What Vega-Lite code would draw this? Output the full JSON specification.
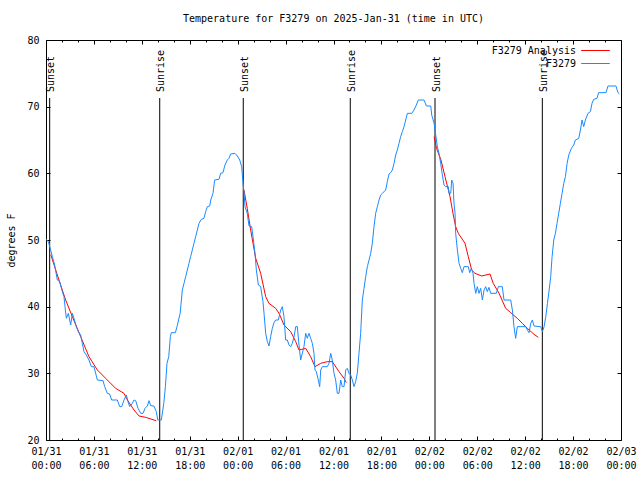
{
  "$schema": "https://vega.github.io/schema/vega-lite/v6.json",
  "autosize": "none",
  "width": 575,
  "height": 400,
  "padding": {"left": 46, "top": 40, "right": 19, "bottom": 40},
  "background": "white",
  "title": {"text": "Temperature for F3279 on 2025-Jan-31 (time in UTC)", "font": "DejaVu Sans Mono", "fontSize": 10, "fontWeight": "normal", "color": "black", "offset": 11},
  "config": {
    "view": {"stroke": "black", "strokeWidth": 1},
    "axis": {"domain": false, "grid": false, "labelFont": "DejaVu Sans Mono", "labelFontSize": 10, "labelColor": "black", "titleFont": "DejaVu Sans Mono", "titleFontSize": 10, "titleFontWeight": "normal", "titleColor": "black", "tickColor": "black", "tickWidth": 1},
    "legend": {"labelFont": "DejaVu Sans Mono", "labelFontSize": 10, "labelColor": "black"}
  },
  "datasets": {
    "analysis": [
      {"series": "F3279 Analysis", "night": "n1", "hours": 0.6, "temp": 47.8},
      {"series": "F3279 Analysis", "night": "n1", "hours": 1.42, "temp": 44.75},
      {"series": "F3279 Analysis", "night": "n1", "hours": 2.46, "temp": 41.0},
      {"series": "F3279 Analysis", "night": "n1", "hours": 3.3, "temp": 38.5},
      {"series": "F3279 Analysis", "night": "n1", "hours": 4.34, "temp": 35.5},
      {"series": "F3279 Analysis", "night": "n1", "hours": 5.38, "temp": 32.5},
      {"series": "F3279 Analysis", "night": "n1", "hours": 6.43, "temp": 30.5},
      {"series": "F3279 Analysis", "night": "n1", "hours": 7.47, "temp": 29.25},
      {"series": "F3279 Analysis", "night": "n1", "hours": 8.72, "temp": 27.75},
      {"series": "F3279 Analysis", "night": "n1", "hours": 9.77, "temp": 27.0},
      {"series": "F3279 Analysis", "night": "n1", "hours": 10.19, "temp": 26.0},
      {"series": "F3279 Analysis", "night": "n1", "hours": 11.02, "temp": 24.5},
      {"series": "F3279 Analysis", "night": "n1", "hours": 11.65, "temp": 23.6},
      {"series": "F3279 Analysis", "night": "n1", "hours": 12.48, "temp": 23.4},
      {"series": "F3279 Analysis", "night": "n1", "hours": 13.52, "temp": 23.0},
      {"series": "F3279 Analysis", "night": "n1", "hours": 13.8, "temp": 22.9},
      {"series": "F3279 Analysis", "night": "n2", "hours": 24.79, "temp": 57.5},
      {"series": "F3279 Analysis", "night": "n2", "hours": 25.2, "temp": 54.75},
      {"series": "F3279 Analysis", "night": "n2", "hours": 25.63, "temp": 51.5},
      {"series": "F3279 Analysis", "night": "n2", "hours": 26.26, "temp": 47.25},
      {"series": "F3279 Analysis", "night": "n2", "hours": 26.88, "temp": 45.0},
      {"series": "F3279 Analysis", "night": "n2", "hours": 27.51, "temp": 41.5},
      {"series": "F3279 Analysis", "night": "n2", "hours": 27.92, "temp": 40.5},
      {"series": "F3279 Analysis", "night": "n2", "hours": 28.76, "temp": 39.75},
      {"series": "F3279 Analysis", "night": "n2", "hours": 29.18, "temp": 39.0},
      {"series": "F3279 Analysis", "night": "n2", "hours": 29.8, "temp": 37.25},
      {"series": "F3279 Analysis", "night": "n2", "hours": 30.64, "temp": 36.25},
      {"series": "F3279 Analysis", "night": "n2", "hours": 31.27, "temp": 34.75},
      {"series": "F3279 Analysis", "night": "n2", "hours": 31.68, "temp": 33.5},
      {"series": "F3279 Analysis", "night": "n2", "hours": 32.52, "temp": 33.75},
      {"series": "F3279 Analysis", "night": "n2", "hours": 33.14, "temp": 32.5},
      {"series": "F3279 Analysis", "night": "n2", "hours": 33.68, "temp": 31.0},
      {"series": "F3279 Analysis", "night": "n2", "hours": 34.4, "temp": 31.5},
      {"series": "F3279 Analysis", "night": "n2", "hours": 35.22, "temp": 31.75},
      {"series": "F3279 Analysis", "night": "n2", "hours": 35.85, "temp": 31.75},
      {"series": "F3279 Analysis", "night": "n2", "hours": 36.69, "temp": 30.25},
      {"series": "F3279 Analysis", "night": "n2", "hours": 37.32, "temp": 29.25},
      {"series": "F3279 Analysis", "night": "n2", "hours": 37.6, "temp": 28.6},
      {"series": "F3279 Analysis", "night": "n3", "hours": 48.6, "temp": 65.5},
      {"series": "F3279 Analysis", "night": "n3", "hours": 48.9, "temp": 63.75},
      {"series": "F3279 Analysis", "night": "n3", "hours": 49.46, "temp": 62.0},
      {"series": "F3279 Analysis", "night": "n3", "hours": 49.96, "temp": 59.5},
      {"series": "F3279 Analysis", "night": "n3", "hours": 50.59, "temp": 56.5},
      {"series": "F3279 Analysis", "night": "n3", "hours": 51.0, "temp": 53.75},
      {"series": "F3279 Analysis", "night": "n3", "hours": 51.3, "temp": 52.0},
      {"series": "F3279 Analysis", "night": "n3", "hours": 51.63, "temp": 51.0},
      {"series": "F3279 Analysis", "night": "n3", "hours": 52.47, "temp": 49.5},
      {"series": "F3279 Analysis", "night": "n3", "hours": 52.88, "temp": 47.5},
      {"series": "F3279 Analysis", "night": "n3", "hours": 53.3, "temp": 45.5},
      {"series": "F3279 Analysis", "night": "n3", "hours": 53.72, "temp": 45.0},
      {"series": "F3279 Analysis", "night": "n3", "hours": 54.55, "temp": 44.6},
      {"series": "F3279 Analysis", "night": "n3", "hours": 55.6, "temp": 44.9},
      {"series": "F3279 Analysis", "night": "n3", "hours": 56.0, "temp": 43.5},
      {"series": "F3279 Analysis", "night": "n3", "hours": 56.73, "temp": 42.0},
      {"series": "F3279 Analysis", "night": "n3", "hours": 57.56, "temp": 39.75},
      {"series": "F3279 Analysis", "night": "n3", "hours": 58.19, "temp": 39.1},
      {"series": "F3279 Analysis", "night": "n3", "hours": 59.02, "temp": 38.25},
      {"series": "F3279 Analysis", "night": "n3", "hours": 59.65, "temp": 37.5},
      {"series": "F3279 Analysis", "night": "n3", "hours": 60.28, "temp": 36.75},
      {"series": "F3279 Analysis", "night": "n3", "hours": 61.11, "temp": 35.85},
      {"series": "F3279 Analysis", "night": "n3", "hours": 61.65, "temp": 35.4}
    ],
    "obs": [
      {"series": "F3279", "hours": 0, "temp": 50.1},
      {"series": "F3279", "hours": 0.3, "temp": 49.75},
      {"series": "F3279", "hours": 0.58, "temp": 48.5},
      {"series": "F3279", "hours": 0.8, "temp": 47.5},
      {"series": "F3279", "hours": 1.08, "temp": 46.25},
      {"series": "F3279", "hours": 1.42, "temp": 44.0},
      {"series": "F3279", "hours": 1.71, "temp": 43.75},
      {"series": "F3279", "hours": 2.05, "temp": 42.25},
      {"series": "F3279", "hours": 2.25, "temp": 41.5},
      {"series": "F3279", "hours": 2.38, "temp": 40.0},
      {"series": "F3279", "hours": 2.55, "temp": 38.25},
      {"series": "F3279", "hours": 2.8, "temp": 39.0},
      {"series": "F3279", "hours": 3.09, "temp": 37.25},
      {"series": "F3279", "hours": 3.3, "temp": 39.0},
      {"series": "F3279", "hours": 3.5, "temp": 38.25},
      {"series": "F3279", "hours": 3.8, "temp": 37.0},
      {"series": "F3279", "hours": 4.05, "temp": 36.25},
      {"series": "F3279", "hours": 4.34, "temp": 35.75},
      {"series": "F3279", "hours": 4.55, "temp": 34.5},
      {"series": "F3279", "hours": 4.76, "temp": 33.25},
      {"series": "F3279", "hours": 5.05, "temp": 32.75},
      {"series": "F3279", "hours": 5.38, "temp": 32.0},
      {"series": "F3279", "hours": 5.68, "temp": 31.0},
      {"series": "F3279", "hours": 6.01, "temp": 31.0},
      {"series": "F3279", "hours": 6.43, "temp": 29.0},
      {"series": "F3279", "hours": 7.14, "temp": 28.9},
      {"series": "F3279", "hours": 7.35, "temp": 28.0},
      {"series": "F3279", "hours": 7.68, "temp": 27.0},
      {"series": "F3279", "hours": 7.97, "temp": 26.9},
      {"series": "F3279", "hours": 8.22, "temp": 26.0},
      {"series": "F3279", "hours": 8.93, "temp": 26.0},
      {"series": "F3279", "hours": 9.23, "temp": 25.0},
      {"series": "F3279", "hours": 9.48, "temp": 25.0},
      {"series": "F3279", "hours": 9.77, "temp": 26.0},
      {"series": "F3279", "hours": 10.06, "temp": 26.75},
      {"series": "F3279", "hours": 10.27, "temp": 25.75},
      {"series": "F3279", "hours": 10.48, "temp": 25.0},
      {"series": "F3279", "hours": 10.8, "temp": 25.5},
      {"series": "F3279", "hours": 11.02, "temp": 26.0},
      {"series": "F3279", "hours": 11.23, "temp": 25.9},
      {"series": "F3279", "hours": 11.52, "temp": 24.75},
      {"series": "F3279", "hours": 11.86, "temp": 24.0},
      {"series": "F3279", "hours": 12.15, "temp": 24.0},
      {"series": "F3279", "hours": 12.4, "temp": 24.75},
      {"series": "F3279", "hours": 12.69, "temp": 25.1},
      {"series": "F3279", "hours": 12.9, "temp": 25.9},
      {"series": "F3279", "hours": 13.11, "temp": 25.15},
      {"series": "F3279", "hours": 13.52, "temp": 25.1},
      {"series": "F3279", "hours": 13.81, "temp": 24.25},
      {"series": "F3279", "hours": 14.0, "temp": 23.0},
      {"series": "F3279", "hours": 14.44, "temp": 23.0},
      {"series": "F3279", "hours": 14.63, "temp": 24.5},
      {"series": "F3279", "hours": 14.75, "temp": 25.5},
      {"series": "F3279", "hours": 14.95, "temp": 28.0},
      {"series": "F3279", "hours": 15.15, "temp": 31.5},
      {"series": "F3279", "hours": 15.37, "temp": 32.5},
      {"series": "F3279", "hours": 15.57, "temp": 35.5},
      {"series": "F3279", "hours": 15.7, "temp": 36.1},
      {"series": "F3279", "hours": 16.2, "temp": 36.1},
      {"series": "F3279", "hours": 16.4, "temp": 37.0},
      {"series": "F3279", "hours": 16.6, "temp": 38.0},
      {"series": "F3279", "hours": 16.8, "temp": 39.0},
      {"series": "F3279", "hours": 17.07, "temp": 42.5},
      {"series": "F3279", "hours": 17.28, "temp": 43.5},
      {"series": "F3279", "hours": 17.49, "temp": 44.5},
      {"series": "F3279", "hours": 17.7, "temp": 45.5},
      {"series": "F3279", "hours": 17.9, "temp": 46.5},
      {"series": "F3279", "hours": 18.11, "temp": 47.5},
      {"series": "F3279", "hours": 18.32, "temp": 48.5},
      {"series": "F3279", "hours": 18.53, "temp": 49.5},
      {"series": "F3279", "hours": 18.74, "temp": 50.5},
      {"series": "F3279", "hours": 18.95, "temp": 51.5},
      {"series": "F3279", "hours": 19.16, "temp": 52.5},
      {"series": "F3279", "hours": 19.45, "temp": 53.1},
      {"series": "F3279", "hours": 19.78, "temp": 53.25},
      {"series": "F3279", "hours": 19.99, "temp": 54.25},
      {"series": "F3279", "hours": 20.2, "temp": 55.0},
      {"series": "F3279", "hours": 20.5, "temp": 55.1},
      {"series": "F3279", "hours": 20.63, "temp": 56.0},
      {"series": "F3279", "hours": 20.91, "temp": 57.0},
      {"series": "F3279", "hours": 21.12, "temp": 59.0},
      {"series": "F3279", "hours": 21.66, "temp": 59.1},
      {"series": "F3279", "hours": 21.87, "temp": 60.0},
      {"series": "F3279", "hours": 22.16, "temp": 60.1},
      {"series": "F3279", "hours": 22.41, "temp": 61.25},
      {"series": "F3279", "hours": 22.7, "temp": 62.0},
      {"series": "F3279", "hours": 22.91, "temp": 62.25},
      {"series": "F3279", "hours": 23.12, "temp": 62.9},
      {"series": "F3279", "hours": 23.66, "temp": 63.0},
      {"series": "F3279", "hours": 23.96, "temp": 62.6},
      {"series": "F3279", "hours": 24.26, "temp": 62.0},
      {"series": "F3279", "hours": 24.5, "temp": 61.0},
      {"series": "F3279", "hours": 24.67, "temp": 58.5},
      {"series": "F3279", "hours": 24.79, "temp": 57.25},
      {"series": "F3279", "hours": 24.92, "temp": 55.0},
      {"series": "F3279", "hours": 25.2, "temp": 54.0},
      {"series": "F3279", "hours": 25.42, "temp": 52.1},
      {"series": "F3279", "hours": 25.75, "temp": 52.0},
      {"series": "F3279", "hours": 25.92, "temp": 50.5},
      {"series": "F3279", "hours": 26.17, "temp": 48.0},
      {"series": "F3279", "hours": 26.34, "temp": 45.5},
      {"series": "F3279", "hours": 26.59, "temp": 43.25},
      {"series": "F3279", "hours": 26.88, "temp": 43.0},
      {"series": "F3279", "hours": 27.17, "temp": 40.75},
      {"series": "F3279", "hours": 27.3, "temp": 39.0},
      {"series": "F3279", "hours": 27.51, "temp": 36.0},
      {"series": "F3279", "hours": 27.72, "temp": 34.75},
      {"series": "F3279", "hours": 27.92, "temp": 34.1},
      {"series": "F3279", "hours": 28.13, "temp": 35.5},
      {"series": "F3279", "hours": 28.34, "temp": 36.75},
      {"series": "F3279", "hours": 28.55, "temp": 37.6},
      {"series": "F3279", "hours": 28.76, "temp": 38.0},
      {"series": "F3279", "hours": 29.09, "temp": 38.0},
      {"series": "F3279", "hours": 29.39, "temp": 39.5},
      {"series": "F3279", "hours": 29.59, "temp": 40.0},
      {"series": "F3279", "hours": 29.8, "temp": 38.5},
      {"series": "F3279", "hours": 30.01, "temp": 35.0},
      {"series": "F3279", "hours": 30.22, "temp": 35.0},
      {"series": "F3279", "hours": 30.43, "temp": 34.25},
      {"series": "F3279", "hours": 30.64, "temp": 34.0},
      {"series": "F3279", "hours": 30.84, "temp": 34.5},
      {"series": "F3279", "hours": 31.06, "temp": 35.5},
      {"series": "F3279", "hours": 31.27, "temp": 37.0},
      {"series": "F3279", "hours": 31.47, "temp": 37.0},
      {"series": "F3279", "hours": 31.68, "temp": 34.25},
      {"series": "F3279", "hours": 31.89, "temp": 32.0},
      {"series": "F3279", "hours": 32.09, "temp": 33.0},
      {"series": "F3279", "hours": 32.3, "temp": 34.0},
      {"series": "F3279", "hours": 32.52, "temp": 36.0},
      {"series": "F3279", "hours": 32.72, "temp": 35.25},
      {"series": "F3279", "hours": 32.93, "temp": 36.0},
      {"series": "F3279", "hours": 33.14, "temp": 35.25},
      {"series": "F3279", "hours": 33.35, "temp": 34.5},
      {"series": "F3279", "hours": 33.56, "temp": 33.0},
      {"series": "F3279", "hours": 33.68, "temp": 30.5},
      {"series": "F3279", "hours": 33.85, "temp": 30.25},
      {"series": "F3279", "hours": 34.1, "temp": 29.0},
      {"series": "F3279", "hours": 34.27, "temp": 28.0},
      {"series": "F3279", "hours": 34.4, "temp": 30.5},
      {"series": "F3279", "hours": 34.6, "temp": 31.0},
      {"series": "F3279", "hours": 35.22, "temp": 31.0},
      {"series": "F3279", "hours": 35.44, "temp": 31.5},
      {"series": "F3279", "hours": 35.65, "temp": 33.0},
      {"series": "F3279", "hours": 35.85, "temp": 32.0},
      {"series": "F3279", "hours": 36.06, "temp": 30.0},
      {"series": "F3279", "hours": 36.27, "temp": 29.0},
      {"series": "F3279", "hours": 36.48, "temp": 27.0},
      {"series": "F3279", "hours": 36.69, "temp": 27.0},
      {"series": "F3279", "hours": 36.9, "temp": 29.0},
      {"series": "F3279", "hours": 37.1, "temp": 28.0},
      {"series": "F3279", "hours": 37.32, "temp": 28.0},
      {"series": "F3279", "hours": 37.53, "temp": 30.5},
      {"series": "F3279", "hours": 37.73, "temp": 30.75},
      {"series": "F3279", "hours": 37.94, "temp": 30.0},
      {"series": "F3279", "hours": 38.15, "temp": 29.75},
      {"series": "F3279", "hours": 38.36, "temp": 29.0},
      {"series": "F3279", "hours": 38.57, "temp": 28.0},
      {"series": "F3279", "hours": 38.77, "temp": 28.75},
      {"series": "F3279", "hours": 38.98, "temp": 30.0},
      {"series": "F3279", "hours": 39.19, "temp": 33.0},
      {"series": "F3279", "hours": 39.4, "temp": 36.0},
      {"series": "F3279", "hours": 39.61, "temp": 41.0},
      {"series": "F3279", "hours": 39.82, "temp": 42.75},
      {"series": "F3279", "hours": 40.03, "temp": 44.5},
      {"series": "F3279", "hours": 40.24, "temp": 46.0},
      {"series": "F3279", "hours": 40.45, "temp": 47.0},
      {"series": "F3279", "hours": 40.66, "temp": 48.0},
      {"series": "F3279", "hours": 40.86, "temp": 49.5},
      {"series": "F3279", "hours": 41.07, "temp": 52.0},
      {"series": "F3279", "hours": 41.28, "temp": 54.0},
      {"series": "F3279", "hours": 41.49, "temp": 55.0},
      {"series": "F3279", "hours": 41.7, "temp": 56.0},
      {"series": "F3279", "hours": 41.91, "temp": 56.75},
      {"series": "F3279", "hours": 42.12, "temp": 57.0},
      {"series": "F3279", "hours": 42.53, "temp": 57.5},
      {"series": "F3279", "hours": 42.74, "temp": 58.75},
      {"series": "F3279", "hours": 42.95, "temp": 59.9},
      {"series": "F3279", "hours": 43.16, "temp": 60.1},
      {"series": "F3279", "hours": 43.37, "temp": 60.5},
      {"series": "F3279", "hours": 43.58, "temp": 61.5},
      {"series": "F3279", "hours": 43.79, "temp": 62.75},
      {"series": "F3279", "hours": 43.99, "temp": 63.5},
      {"series": "F3279", "hours": 44.2, "temp": 64.5},
      {"series": "F3279", "hours": 44.41, "temp": 65.5},
      {"series": "F3279", "hours": 44.62, "temp": 66.25},
      {"series": "F3279", "hours": 44.83, "temp": 67.0},
      {"series": "F3279", "hours": 45.04, "temp": 68.0},
      {"series": "F3279", "hours": 45.25, "temp": 69.0},
      {"series": "F3279", "hours": 45.8, "temp": 69.0},
      {"series": "F3279", "hours": 46.08, "temp": 69.5},
      {"series": "F3279", "hours": 46.37, "temp": 70.25},
      {"series": "F3279", "hours": 46.62, "temp": 71.0},
      {"series": "F3279", "hours": 47.34, "temp": 71.0},
      {"series": "F3279", "hours": 47.63, "temp": 70.1},
      {"series": "F3279", "hours": 48.18, "temp": 70.1},
      {"series": "F3279", "hours": 48.3, "temp": 68.75},
      {"series": "F3279", "hours": 48.6, "temp": 67.5},
      {"series": "F3279", "hours": 48.8, "temp": 65.75},
      {"series": "F3279", "hours": 49.0, "temp": 64.0},
      {"series": "F3279", "hours": 49.21, "temp": 63.0},
      {"series": "F3279", "hours": 49.42, "temp": 61.5},
      {"series": "F3279", "hours": 49.63, "temp": 59.75},
      {"series": "F3279", "hours": 49.84, "temp": 58.25},
      {"series": "F3279", "hours": 50.05, "temp": 58.0},
      {"series": "F3279", "hours": 50.38, "temp": 58.0},
      {"series": "F3279", "hours": 50.47, "temp": 57.0},
      {"series": "F3279", "hours": 50.68, "temp": 57.0},
      {"series": "F3279", "hours": 50.8, "temp": 59.0},
      {"series": "F3279", "hours": 50.97, "temp": 58.5},
      {"series": "F3279", "hours": 51.09, "temp": 55.5},
      {"series": "F3279", "hours": 51.22, "temp": 54.0},
      {"series": "F3279", "hours": 51.3, "temp": 51.0},
      {"series": "F3279", "hours": 51.51, "temp": 48.5},
      {"series": "F3279", "hours": 51.72, "temp": 46.5},
      {"series": "F3279", "hours": 51.93, "temp": 45.75},
      {"series": "F3279", "hours": 52.13, "temp": 45.1},
      {"series": "F3279", "hours": 52.34, "temp": 46.0},
      {"series": "F3279", "hours": 52.88, "temp": 46.0},
      {"series": "F3279", "hours": 53.06, "temp": 45.1},
      {"series": "F3279", "hours": 53.26, "temp": 45.75},
      {"series": "F3279", "hours": 53.47, "temp": 45.0},
      {"series": "F3279", "hours": 53.6, "temp": 43.5},
      {"series": "F3279", "hours": 53.81, "temp": 42.0},
      {"series": "F3279", "hours": 54.01, "temp": 43.0},
      {"series": "F3279", "hours": 54.22, "temp": 42.0},
      {"series": "F3279", "hours": 54.43, "temp": 42.75},
      {"series": "F3279", "hours": 54.64, "temp": 41.0},
      {"series": "F3279", "hours": 54.85, "temp": 42.5},
      {"series": "F3279", "hours": 55.06, "temp": 43.0},
      {"series": "F3279", "hours": 55.26, "temp": 42.25},
      {"series": "F3279", "hours": 55.47, "temp": 42.9},
      {"series": "F3279", "hours": 55.68, "temp": 42.0},
      {"series": "F3279", "hours": 56.39, "temp": 42.0},
      {"series": "F3279", "hours": 56.64, "temp": 43.0},
      {"series": "F3279", "hours": 57.14, "temp": 43.0},
      {"series": "F3279", "hours": 57.35, "temp": 41.0},
      {"series": "F3279", "hours": 58.19, "temp": 41.0},
      {"series": "F3279", "hours": 58.4, "temp": 39.5},
      {"series": "F3279", "hours": 58.6, "temp": 37.0},
      {"series": "F3279", "hours": 58.81, "temp": 35.25},
      {"series": "F3279", "hours": 59.02, "temp": 37.0},
      {"series": "F3279", "hours": 60.07, "temp": 37.0},
      {"series": "F3279", "hours": 60.28, "temp": 36.5},
      {"series": "F3279", "hours": 60.49, "temp": 36.1},
      {"series": "F3279", "hours": 60.7, "temp": 37.5},
      {"series": "F3279", "hours": 60.9, "temp": 38.0},
      {"series": "F3279", "hours": 61.11, "temp": 37.1},
      {"series": "F3279", "hours": 61.95, "temp": 37.0},
      {"series": "F3279", "hours": 62.16, "temp": 36.25},
      {"series": "F3279", "hours": 62.37, "temp": 37.0},
      {"series": "F3279", "hours": 62.58, "temp": 38.5},
      {"series": "F3279", "hours": 62.79, "temp": 40.5},
      {"series": "F3279", "hours": 63.0, "temp": 42.5},
      {"series": "F3279", "hours": 63.2, "temp": 44.5},
      {"series": "F3279", "hours": 63.37, "temp": 47.5},
      {"series": "F3279", "hours": 63.58, "temp": 50.0},
      {"series": "F3279", "hours": 63.79, "temp": 51.0},
      {"series": "F3279", "hours": 63.99, "temp": 52.5},
      {"series": "F3279", "hours": 64.2, "temp": 54.0},
      {"series": "F3279", "hours": 64.41, "temp": 55.5},
      {"series": "F3279", "hours": 64.62, "temp": 57.0},
      {"series": "F3279", "hours": 64.83, "temp": 58.5},
      {"series": "F3279", "hours": 65.04, "temp": 59.5},
      {"series": "F3279", "hours": 65.25, "temp": 61.5},
      {"series": "F3279", "hours": 65.46, "temp": 62.75},
      {"series": "F3279", "hours": 65.79, "temp": 63.75},
      {"series": "F3279", "hours": 66.08, "temp": 64.25},
      {"series": "F3279", "hours": 66.29, "temp": 65.0},
      {"series": "F3279", "hours": 66.71, "temp": 65.25},
      {"series": "F3279", "hours": 66.92, "temp": 66.5},
      {"series": "F3279", "hours": 67.12, "temp": 68.0},
      {"series": "F3279", "hours": 67.33, "temp": 67.0},
      {"series": "F3279", "hours": 67.54, "temp": 68.0},
      {"series": "F3279", "hours": 67.87, "temp": 69.0},
      {"series": "F3279", "hours": 68.17, "temp": 69.25},
      {"series": "F3279", "hours": 68.37, "temp": 70.5},
      {"series": "F3279", "hours": 68.58, "temp": 71.1},
      {"series": "F3279", "hours": 68.99, "temp": 71.25},
      {"series": "F3279", "hours": 69.2, "temp": 72.1},
      {"series": "F3279", "hours": 70.12, "temp": 72.1},
      {"series": "F3279", "hours": 70.37, "temp": 73.1},
      {"series": "F3279", "hours": 71.37, "temp": 73.1},
      {"series": "F3279", "hours": 71.62, "temp": 72.1},
      {"series": "F3279", "hours": 71.8, "temp": 71.9}
    ],
    "sun": [
      {"hours": 0.46, "event": "Sunset"},
      {"hours": 14.24, "event": "Sunrise"},
      {"hours": 24.7, "event": "Sunset"},
      {"hours": 38.1, "event": "Sunrise"},
      {"hours": 48.71, "event": "Sunset"},
      {"hours": 62.15, "event": "Sunrise"}
    ]
  },
  "layer": [
    {
      "data": {"name": "sun"},
      "mark": {"type": "rule", "color": "black", "strokeWidth": 1},
      "encoding": {
        "x": {"field": "hours", "type": "quantitative", "scale": {"domain": [0, 72], "nice": false, "zero": false},
          "axis": {"orient": "top", "title": null, "labels": false, "values": [0,2,4,6,8,10,12,14,16,18,20,22,24,26,28,30,32,34,36,38,40,42,44,46,48,50,52,54,56,58,60,62,64,66,68,70,72],
            "tickSize": {"condition": {"test": "datum.value % 6 === 0", "value": -4}, "value": -2}}},
        "y": {"datum": 71.3, "type": "quantitative", "scale": {"domain": [20, 80], "nice": false, "zero": false},
          "axis": {"orient": "right", "title": null, "labels": false, "values": [20,30,40,50,60,70,80], "tickSize": -4}},
        "y2": {"datum": 20}
      }
    },
    {
      "data": {"name": "sun"},
      "mark": {"type": "text", "angle": 270, "align": "left", "baseline": "middle", "dy": 1.5, "font": "DejaVu Sans Mono", "fontSize": 10, "color": "black"},
      "encoding": {
        "x": {"field": "hours", "type": "quantitative", "axis": null},
        "y": {"datum": 72.2, "type": "quantitative", "axis": null},
        "text": {"field": "event"}
      }
    },
    {
      "data": {"name": "analysis"},
      "mark": {"type": "line", "strokeWidth": 1},
      "encoding": {
        "x": {"field": "hours", "type": "quantitative",
          "axis": {"orient": "bottom", "title": null, "values": [0,2,4,6,8,10,12,14,16,18,20,22,24,26,28,30,32,34,36,38,40,42,44,46,48,50,52,54,56,58,60,62,64,66,68,70,72],
            "tickSize": {"condition": {"test": "datum.value % 6 === 0", "value": -4}, "value": -2},
            "labelExpr": "datum.value % 6 === 0 ? [timeFormat(datetime(2025, 0, 31, datum.value), '%m/%d'), timeFormat(datetime(2025, 0, 31, datum.value), '%H:%M')] : ''",
            "labelPadding": 10, "labelLineHeight": 14, "labelFlush": false, "labelOverlap": false}},
        "y": {"field": "temp", "type": "quantitative",
          "axis": {"orient": "left", "title": "degrees F", "values": [20,30,40,50,60,70,80], "tickSize": -4, "labelPadding": 11, "titlePadding": 10}},
        "color": {"field": "series", "type": "nominal",
          "scale": {"domain": ["F3279 Analysis", "F3279"], "range": ["#ff0000", "#1a8aff"]},
          "legend": {"title": null, "orient": "none", "legendX": 544, "legendY": 5, "padding": 0, "symbolType": "M-3,0H3", "symbolSize": 91, "symbolStrokeWidth": 1, "labelAlign": "right", "labelOffset": -25, "rowPadding": 2}},
        "detail": {"field": "night"}
      }
    },
    {
      "data": {"name": "obs"},
      "mark": {"type": "line", "strokeWidth": 1},
      "encoding": {
        "x": {"field": "hours", "type": "quantitative", "axis": null},
        "y": {"field": "temp", "type": "quantitative", "axis": null},
        "color": {"field": "series", "type": "nominal"}
      }
    }
  ],
  "resolve": {"axis": {"x": "independent", "y": "independent"}}
}
